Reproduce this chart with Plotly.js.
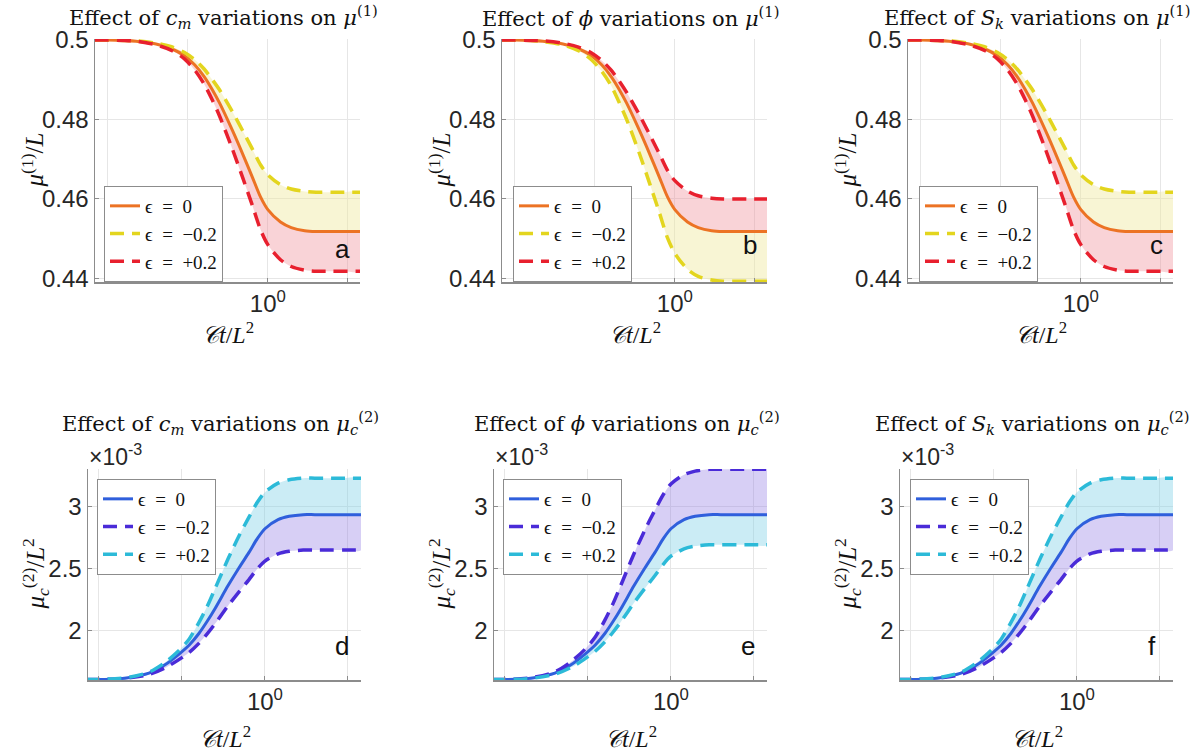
<!DOCTYPE html>
<html>
<head>
<meta charset="utf-8">
<script src="https://cdn.plot.ly/plotly-3.0.1.min.js"></script>
<style>html,body{margin:0;padding:0;background:#fff;}#chart{width:1203px;height:752px;}</style>
</head>
<body>
<div id="chart"></div>
<script>
// ---------- data ----------
const t = [0.083, 0.1, 0.125, 0.15, 0.2, 0.25, 0.3, 0.35, 0.4, 0.45, 0.5, 0.6, 0.7, 0.8, 0.9, 1.0, 1.2, 1.4, 1.7, 2.0, 2.5, 3.0, 3.8];

// mu^(1)/L  (top row)
const mu1_cm_eps0  = [0.5, 0.5, 0.4999, 0.4997, 0.4990, 0.4978, 0.4961, 0.4937, 0.4908, 0.4875, 0.4841, 0.4773, 0.4711, 0.4655, 0.4605, 0.4573, 0.4542, 0.4528, 0.4520, 0.4518, 0.4518, 0.4518, 0.4518];
const mu1_cm_epsM  = [0.5, 0.5, 0.4999, 0.4998, 0.4992, 0.4983, 0.4969, 0.4950, 0.4927, 0.4900, 0.4874, 0.4820, 0.4770, 0.4726, 0.4686, 0.4661, 0.4636, 0.4625, 0.4619, 0.4617, 0.4617, 0.4617, 0.4617];
const mu1_cm_epsP  = [0.5, 0.5, 0.4999, 0.4997, 0.4988, 0.4974, 0.4953, 0.4924, 0.4889, 0.4849, 0.4808, 0.4726, 0.4651, 0.4584, 0.4523, 0.4485, 0.4447, 0.4430, 0.4421, 0.4418, 0.4418, 0.4418, 0.4418];

const mu1_phi_eps0 = [0.5, 0.5, 0.4999, 0.4997, 0.4990, 0.4978, 0.4961, 0.4937, 0.4908, 0.4875, 0.4841, 0.4773, 0.4711, 0.4655, 0.4605, 0.4573, 0.4542, 0.4528, 0.4520, 0.4518, 0.4518, 0.4518, 0.4518];
const mu1_phi_epsM = [0.5, 0.5, 0.4999, 0.4996, 0.4988, 0.4973, 0.4951, 0.4921, 0.4885, 0.4842, 0.4800, 0.4715, 0.4636, 0.4566, 0.4502, 0.4463, 0.4423, 0.4405, 0.4396, 0.4393, 0.4393, 0.4393, 0.4393];
const mu1_phi_epsP = [0.5, 0.5, 0.4999, 0.4998, 0.4992, 0.4982, 0.4968, 0.4948, 0.4924, 0.4896, 0.4868, 0.4812, 0.4760, 0.4714, 0.4672, 0.4646, 0.4620, 0.4608, 0.4602, 0.4600, 0.4600, 0.4600, 0.4600];

const mu1_sk_eps0  = [0.5, 0.5, 0.4999, 0.4997, 0.4990, 0.4978, 0.4961, 0.4937, 0.4908, 0.4875, 0.4841, 0.4773, 0.4711, 0.4655, 0.4605, 0.4573, 0.4542, 0.4528, 0.4520, 0.4518, 0.4518, 0.4518, 0.4518];
const mu1_sk_epsM  = [0.5, 0.5, 0.4999, 0.4998, 0.4992, 0.4983, 0.4969, 0.4950, 0.4927, 0.4900, 0.4874, 0.4820, 0.4770, 0.4726, 0.4686, 0.4661, 0.4636, 0.4625, 0.4619, 0.4617, 0.4617, 0.4617, 0.4617];
const mu1_sk_epsP  = [0.5, 0.5, 0.4999, 0.4997, 0.4988, 0.4974, 0.4953, 0.4924, 0.4889, 0.4849, 0.4808, 0.4726, 0.4651, 0.4584, 0.4523, 0.4485, 0.4447, 0.4430, 0.4421, 0.4418, 0.4418, 0.4418, 0.4418];

// mu_c^(2)/L^2  (bottom row, in units of 1e-3)
const mu2_cm_eps0  = [1.600, 1.601, 1.605, 1.616, 1.653, 1.720, 1.801, 1.881, 1.974, 2.075, 2.175, 2.362, 2.509, 2.629, 2.743, 2.823, 2.897, 2.924, 2.937, 2.937, 2.937, 2.937, 2.937];
const mu2_cm_epsM  = [1.600, 1.601, 1.604, 1.613, 1.642, 1.695, 1.758, 1.821, 1.894, 1.973, 2.052, 2.199, 2.314, 2.409, 2.498, 2.561, 2.619, 2.640, 2.650, 2.650, 2.650, 2.650, 2.650];
const mu2_cm_epsP  = [1.600, 1.602, 1.607, 1.618, 1.660, 1.739, 1.829, 1.930, 2.062, 2.196, 2.335, 2.580, 2.768, 2.915, 3.037, 3.119, 3.192, 3.220, 3.233, 3.233, 3.233, 3.233, 3.233];

const mu2_phi_eps0 = [1.600, 1.601, 1.605, 1.616, 1.653, 1.720, 1.801, 1.881, 1.974, 2.075, 2.175, 2.362, 2.509, 2.629, 2.743, 2.823, 2.897, 2.924, 2.937, 2.937, 2.937, 2.937, 2.937];
const mu2_phi_epsM = [1.600, 1.602, 1.607, 1.619, 1.663, 1.745, 1.839, 1.945, 2.082, 2.222, 2.367, 2.622, 2.818, 2.972, 3.100, 3.185, 3.261, 3.290, 3.304, 3.304, 3.304, 3.304, 3.304];
const mu2_phi_epsP = [1.600, 1.601, 1.604, 1.613, 1.644, 1.698, 1.764, 1.830, 1.906, 1.988, 2.070, 2.223, 2.343, 2.442, 2.535, 2.600, 2.660, 2.682, 2.693, 2.693, 2.693, 2.693, 2.693];

const mu2_sk_eps0  = [1.600, 1.601, 1.605, 1.616, 1.653, 1.720, 1.801, 1.881, 1.974, 2.075, 2.175, 2.362, 2.509, 2.629, 2.743, 2.823, 2.897, 2.924, 2.937, 2.937, 2.937, 2.937, 2.937];
const mu2_sk_epsM  = [1.600, 1.601, 1.604, 1.613, 1.642, 1.695, 1.758, 1.821, 1.894, 1.973, 2.052, 2.199, 2.314, 2.409, 2.498, 2.561, 2.619, 2.640, 2.650, 2.650, 2.650, 2.650, 2.650];
const mu2_sk_epsP  = [1.600, 1.602, 1.607, 1.618, 1.660, 1.739, 1.829, 1.930, 2.062, 2.196, 2.335, 2.580, 2.768, 2.915, 3.037, 3.119, 3.192, 3.220, 3.233, 3.233, 3.233, 3.233, 3.233];

const legendLabels = ['ϵ\u2002=\u20020', 'ϵ\u2002=\u2002−0.2', 'ϵ\u2002=\u2002+0.2'];
const xMajorTickVals = [1];
const xMajorTickText = ['10<sup>0</sup>'];
const xMinorTickVals = [0.1, 0.31623, 3.1623];
const yTopTickVals = [0.44, 0.46, 0.48, 0.5];
const yTopTickText = ['0.44', '0.46', '0.48', '0.5'];
const yBotTickVals = [2, 2.5, 3];
const yBotTickText = ['2', '2.5', '3'];
const panelLetters = ['a', 'b', 'c', 'd', 'e', 'f'];

// ---------- styling ----------
const W = 1203, H = 752;
const SERIF = 'Liberation Serif, DejaVu Serif, serif';
const TSERIF = 'DejaVu Serif, Liberation Serif, serif';
const SANS = 'Liberation Sans, Arial, sans-serif';
const topColors = {base: '#EC7324', neg: '#E3D51E', pos: '#E8202E', fillNeg: 'rgba(240,233,160,0.45)', fillPos: 'rgba(240,150,160,0.42)'};
const botColors = {base: '#2F5FDC', neg: '#4A2BD8', pos: '#2CBAD8', fillNeg: 'rgba(150,130,230,0.38)', fillPos: 'rgba(130,210,230,0.42)'};

const panels = [
  {base: mu1_cm_eps0,  neg: mu1_cm_epsM,  pos: mu1_cm_epsP,  c: topColors, x0: 95,  x1: 360,  row: 0},
  {base: mu1_phi_eps0, neg: mu1_phi_epsM, pos: mu1_phi_epsP, c: topColors, x0: 502, x1: 767,  row: 0},
  {base: mu1_sk_eps0,  neg: mu1_sk_epsM,  pos: mu1_sk_epsP,  c: topColors, x0: 908, x1: 1173, row: 0},
  {base: mu2_cm_eps0,  neg: mu2_cm_epsM,  pos: mu2_cm_epsP,  c: botColors, x0: 88,  x1: 361,  row: 1},
  {base: mu2_phi_eps0, neg: mu2_phi_epsM, pos: mu2_phi_epsP, c: botColors, x0: 494, x1: 767,  row: 1},
  {base: mu2_sk_eps0,  neg: mu2_sk_epsM,  pos: mu2_sk_epsP,  c: botColors, x0: 900, x1: 1173, row: 1}
];
const rowY = [[39, 282], [469, 680]];
const titles = [
  'Effect of <i>c<sub>m</sub></i> variations on <i>μ</i><sup>(1)</sup>',
  'Effect of <i>ϕ</i> variations on <i>μ</i><sup>(1)</sup>',
  'Effect of <i>S<sub>k</sub></i> variations on <i>μ</i><sup>(1)</sup>',
  'Effect of <i>c<sub>m</sub></i> variations on <i>μ</i><sub><i>c</i></sub><sup>(2)</sup>',
  'Effect of <i>ϕ</i> variations on <i>μ</i><sub><i>c</i></sub><sup>(2)</sup>',
  'Effect of <i>S<sub>k</sub></i> variations on <i>μ</i><sub><i>c</i></sub><sup>(2)</sup>'
];
const legendPos = [[104, 282, 'bottom'], [513, 282, 'bottom'], [919, 282, 'bottom'], [97, 479, 'top'], [503, 479, 'top'], [910, 479, 'top']];
const letterPos = [[342, 249], [750, 245], [1156, 245], [342, 646], [748, 646], [1152, 646]];

const px = v => v / W;
const py = v => 1 - v / H;

const data = [];
const layout = {
  width: W, height: H,
  margin: {l: 0, r: 0, t: 0, b: 0},
  paper_bgcolor: '#ffffff', plot_bgcolor: '#ffffff',
  showlegend: true,
  annotations: []
};

panels.forEach((p, i) => {
  const n = i + 1;
  const xs = n === 1 ? 'x' : 'x' + n;
  const ys = n === 1 ? 'y' : 'y' + n;
  const xk = n === 1 ? 'xaxis' : 'xaxis' + n;
  const yk = n === 1 ? 'yaxis' : 'yaxis' + n;
  const lk = n === 1 ? 'legend' : 'legend' + n;
  const top = p.row === 0;
  const [yy0, yy1] = rowY[p.row];

  const revT = t.slice().reverse();
  // shaded bands
  data.push({x: t.concat(revT), y: p.base.concat(p.neg.slice().reverse()), xaxis: xs, yaxis: ys,
    type: 'scatter', mode: 'lines', fill: 'toself', fillcolor: p.c.fillNeg, line: {width: 0, shape: 'spline', smoothing: 0.8}, showlegend: false, hoverinfo: 'skip'});
  data.push({x: t.concat(revT), y: p.base.concat(p.pos.slice().reverse()), xaxis: xs, yaxis: ys,
    type: 'scatter', mode: 'lines', fill: 'toself', fillcolor: p.c.fillPos, line: {width: 0, shape: 'spline', smoothing: 0.8}, showlegend: false, hoverinfo: 'skip'});
  // lines
  data.push({x: t, y: p.base, xaxis: xs, yaxis: ys, type: 'scatter', mode: 'lines', name: legendLabels[0], legend: lk,
    line: {color: p.c.base, width: 3, shape: 'spline', smoothing: 0.8}});
  data.push({x: t, y: p.neg, xaxis: xs, yaxis: ys, type: 'scatter', mode: 'lines', name: legendLabels[1], legend: lk,
    line: {color: p.c.neg, width: 3.5, dash: '14px,8px', shape: 'spline', smoothing: 0.8}});
  data.push({x: t, y: p.pos, xaxis: xs, yaxis: ys, type: 'scatter', mode: 'lines', name: legendLabels[2], legend: lk,
    line: {color: p.c.pos, width: 3.5, dash: '14px,8px', shape: 'spline', smoothing: 0.8}});

  layout[xk] = {
    domain: [px(p.x0), px(p.x1)], anchor: ys, type: 'log',
    range: top ? [-1.08, 0.576] : [-1.066, 0.579],
    tickmode: 'array', tickvals: xMajorTickVals, ticktext: xMajorTickText,
    showgrid: true, gridcolor: '#e6e6e6', gridwidth: 1,
    minor: {tickmode: 'array', tickvals: xMinorTickVals, showgrid: true, gridcolor: '#e6e6e6', gridwidth: 1,
            ticks: 'inside', ticklen: 4, tickcolor: '#8c8c8c'},
    showline: true, linecolor: '#8c8c8c', linewidth: 1.5,
    ticks: 'inside', ticklen: 4, tickcolor: '#8c8c8c',
    zeroline: false, mirror: false,
    tickfont: {family: SANS, size: 24, color: '#262626'}
  };
  layout[yk] = {
    domain: [py(yy1), py(yy0)], anchor: xs,
    range: top ? [0.4391, 0.50025] : [1.597, 3.307],
    tickmode: 'array',
    tickvals: top ? yTopTickVals : yBotTickVals,
    ticktext: top ? yTopTickText : yBotTickText,
    showgrid: true, gridcolor: '#e6e6e6', gridwidth: 1,
    showline: true, linecolor: '#8c8c8c', linewidth: 1.5,
    ticks: 'inside', ticklen: 4, tickcolor: '#8c8c8c',
    zeroline: false, mirror: false,
    tickfont: {family: SANS, size: 24, color: '#262626'}
  };
  layout[lk] = {
    x: px(legendPos[i][0]), y: py(legendPos[i][1]), xanchor: 'left', yanchor: legendPos[i][2],
    xref: 'paper', yref: 'paper',
    bgcolor: '#ffffff', bordercolor: '#8c8c8c', borderwidth: 1,
    font: {family: SERIF, size: 19, color: '#111'},
    tracegroupgap: 0, itemwidth: 30
  };

  const cx = (p.x0 + p.x1) / 2;
  // panel title
  layout.annotations.push({text: titles[i], x: px(cx - 4), y: py(top ? 17 : 423), xref: 'paper', yref: 'paper',
    xanchor: 'center', yanchor: 'middle', showarrow: false, font: {family: TSERIF, size: 21, color: '#111'}});
  // x axis title
  layout.annotations.push({text: '<i>𝒞t</i>/<i>L</i><sup>2</sup>', x: px(cx), y: py(top ? 333 : 737), xref: 'paper', yref: 'paper',
    xanchor: 'center', yanchor: 'middle', showarrow: false, font: {family: SERIF, size: 24, color: '#111'}});
  // y axis title
  layout.annotations.push({text: top ? '<i>μ</i><sup>(1)</sup>/<i>L</i>' : '<i>μ</i><sub><i>c</i></sub><sup>(2)</sup>/<i>L</i><sup>2</sup>',
    x: px(p.x0 - (top ? 62 : 53)), y: py((yy0 + yy1) / 2), xref: 'paper', yref: 'paper', textangle: -90,
    xanchor: 'center', yanchor: 'middle', showarrow: false, font: {family: SERIF, size: 25, color: '#111'}});
  // panel letter
  layout.annotations.push({text: panelLetters[i], x: px(letterPos[i][0]), y: py(letterPos[i][1]), xref: 'paper', yref: 'paper',
    xanchor: 'center', yanchor: 'middle', showarrow: false, font: {family: SANS, size: 26, color: '#111'}});
  if (!top) {
    layout.annotations.push({text: '×10<sup>-3</sup>', x: px(p.x0 - 1), y: py(455), xref: 'paper', yref: 'paper',
      xanchor: 'left', yanchor: 'middle', showarrow: false, font: {family: SANS, size: 23, color: '#262626'}});
  }
});

Plotly.newPlot('chart', data, layout, {staticPlot: true, displayModeBar: false});
</script>
</body>
</html>
